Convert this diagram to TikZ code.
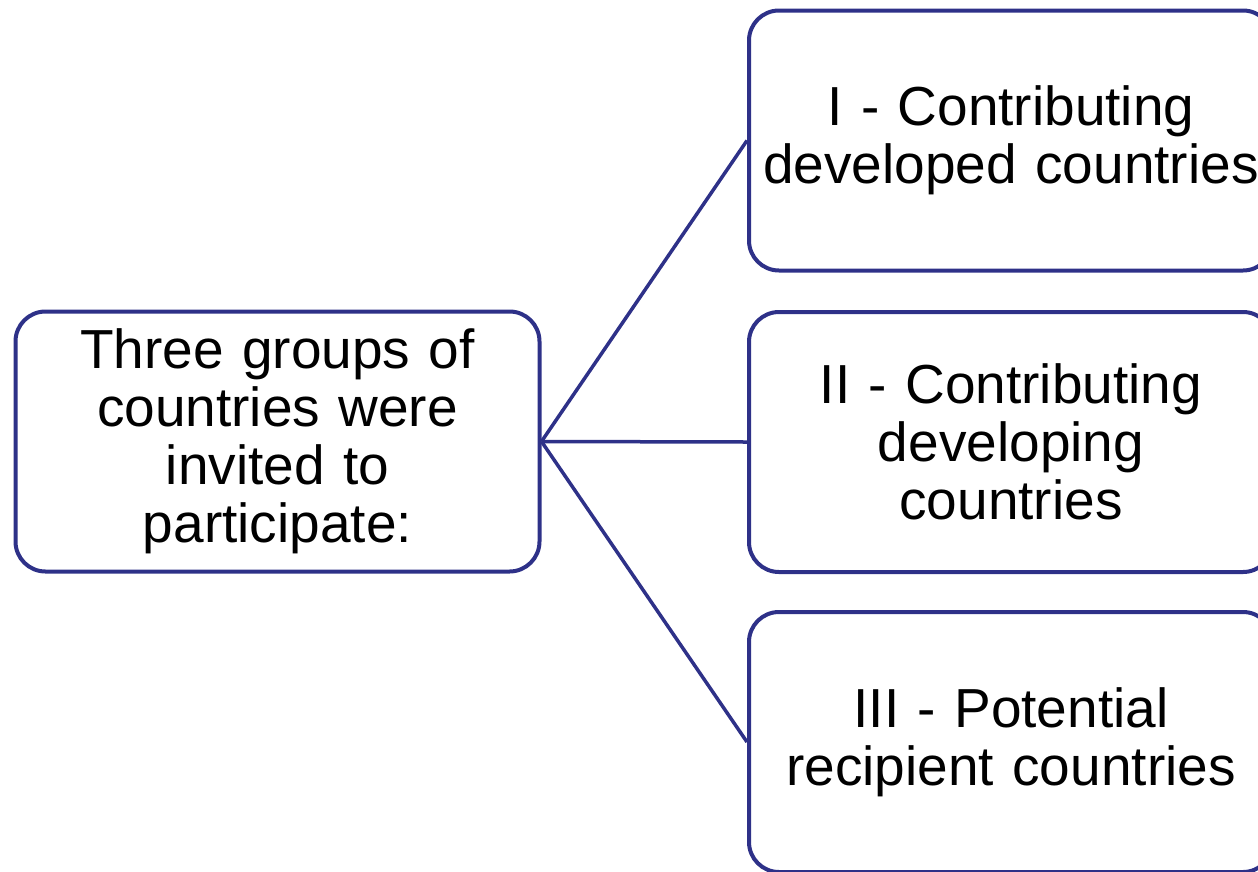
\documentclass[tikz,border=0pt]{standalone}
\usepackage{fontspec}
\setmainfont{Liberation Sans}
\definecolor{boxblue}{RGB}{46,49,136}
\begin{document}
\begin{tikzpicture}[x=1pt,y=-1pt,
  gbox/.style={draw=boxblue,line width=4pt,rounded corners=30pt,fill=white,
    minimum width=524pt,minimum height=260pt,inner sep=0pt,text width=510pt,
    align=center,font=\fontsize{55}{58}\selectfont},
  conn/.style={draw=boxblue,line width=3.5pt}]
\useasboundingbox (0,0) rectangle (1258,871);
\clip (0,0) rectangle (1258,871);
\node[gbox] (L) at (277.5,441.5) {Three groups of\\countries were\\invited to\\participate:};
\node[gbox] (A) at (1011,140.5) {I - Contributing\\developed countries};
\node[gbox] (B) at (1011,442) {II - Contributing\\developing\\countries};
\node[gbox] (C) at (1011,742) {III - Potential\\recipient countries};
\draw[conn] (L.east) -- (A.west);
\draw[conn] (L.east) -- (B.west);
\draw[conn] (L.east) -- (C.west);
\end{tikzpicture}
\end{document}
